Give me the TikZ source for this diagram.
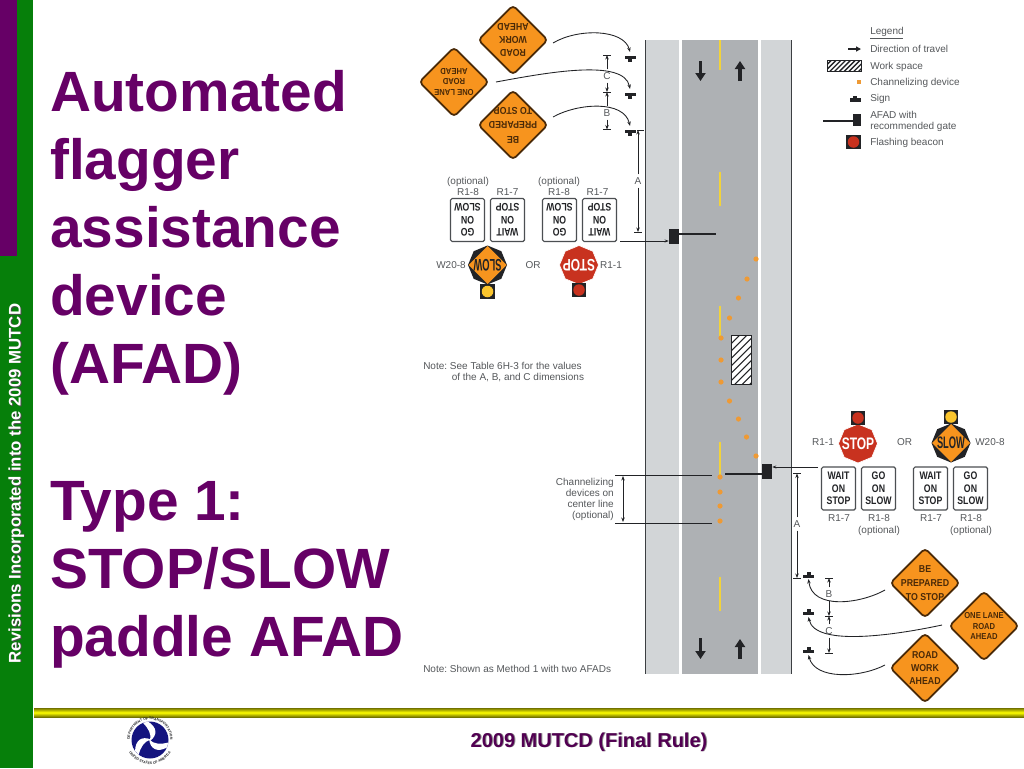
\documentclass[tikz,border=0pt]{standalone}
\usepackage{fontspec}
\setmainfont{Liberation Sans}
\newfontfamily\signf[FakeStretch=0.8]{Liberation Sans}
\newfontfamily\dsf[FakeStretch=0.88]{Liberation Sans}
\newfontfamily\padf[FakeStretch=0.72]{Liberation Sans}
\newfontfamily\slowf[FakeStretch=0.56]{Liberation Sans}
\usetikzlibrary{arrows.meta,shapes.geometric,decorations.text}
\frenchspacing
\definecolor{purp}{HTML}{660066}
\definecolor{grn}{HTML}{067F0A}
\definecolor{lgray}{HTML}{D2D5D7}
\definecolor{rgray}{HTML}{AEB1B4}
\definecolor{edge}{HTML}{3C3F42}
\definecolor{labc}{HTML}{55585B}
\definecolor{ink}{HTML}{222326}
\definecolor{org}{HTML}{F7941E}
\definecolor{brn}{HTML}{4A2A08}
\definecolor{yel}{HTML}{F2D33A}
\definecolor{cone}{HTML}{EE9A35}
\definecolor{stopr}{HTML}{C8321F}
\definecolor{bea}{HTML}{FBC52D}
\definecolor{nav}{HTML}{14147F}
\newdimen\pxu \pxu=0.75pt
\tikzset{
 titlet/.style={font=\fontsize{42.6}{42}\selectfont\bfseries,text=purp,anchor=base west,inner sep=0},
 lab/.style={font=\fontsize{7.5}{8.6}\selectfont,text=labc,inner sep=0,text height=5.3pt,text depth=0pt},
 labl/.style={lab,anchor=west},
 labr/.style={lab,anchor=east},
 dimlab/.style={lab,inner ysep=2.2pt},
 dsq/.style={rectangle,rotate=45,minimum size=49\pxu,inner sep=0,draw=brn,fill=org,line width=1.3pt,rounded corners=3pt},
 dtext/.style={inner sep=0,align=center,text=brn},
 tsq/.style={rectangle,minimum width=34\pxu,minimum height=43\pxu,inner sep=0,draw=labc!90!black,fill=white,line width=0.9pt,rounded corners=1.2pt},
 ttext/.style={inner sep=0,align=center,text=ink,font=\fontsize{8.2}{9.4}\selectfont\signf\bfseries},
 octa/.style={regular polygon,regular polygon sides=8,shape border rotate=22.5,minimum size=39\pxu,inner sep=0},
 fine/.style={draw=ink,line width=0.55pt,-{Stealth[length=3pt,width=2.25pt]}},
 dimln/.style={draw=ink,line width=0.75pt,-{Stealth[length=3.4pt,width=2.6pt]}},
 tick/.style={draw=ink,line width=0.75pt},
 roadarrow/.style={draw=ink,line width=2.6pt,-{Triangle[length=6pt,width=7.5pt]}},
 gate/.style={draw=ink,line width=1.8pt},
 leader/.style={draw=ink,line width=0.7pt},
 curve/.style={draw=ink,line width=0.65pt,-{Stealth[length=3.4pt,width=2.6pt]}},
}
\newcommand{\dsign}[7]{%
 \node[dsq] (#1) at (#2,#3) {};
 \node[dtext,rotate=#4,font=\fontsize{#5}{#6}\selectfont\dsf\bfseries] (#1-t) at (#2,#3) {#7};}
\newcommand{\tsign}[5]{%
 \node[tsq] (#1) at (#2,#3) {};
 \node[ttext,rotate=#4] (#1-t) at (#2,#3) {#5};}
\newcommand{\sstop}[4]{%
 \node[octa,fill=stopr,draw=white,line width=0.5pt] (#1) at (#2,#3) {};
 \node[inner sep=0,text=white,rotate=#4,font=\fontsize{12.5}{13}\selectfont\padf\bfseries] (#1-t) at (#2,#3) {STOP};}
\newcommand{\sslow}[4]{%
 \node[octa,fill=ink] (#1) at (#2,#3) {};
 \fill[org] (#2-19,#3) -- (#2,#3-19) -- (#2+19,#3) -- (#2,#3+19) -- cycle;
 \node[inner sep=0,text=ink,rotate=#4,font=\fontsize{12.5}{13}\selectfont\slowf\bfseries] (#1-t) at (#2,#3) {SLOW};}
\newcommand{\beacon}[4]{%
 \node[rectangle,fill=ink,minimum size=14.5\pxu,inner sep=0] (#1) at (#2,#3) {};
 \node[circle,fill=#4,minimum size=11.5\pxu,inner sep=0] (#1-l) at (#2,#3) {};}
\newcommand{\postdown}[2]{%
 \fill[ink] (#1-5.5,#2) rectangle (#1+5.5,#2+3.2);
 \fill[ink] (#1-2,#2+3) rectangle (#1+2,#2+6);}
\newcommand{\postup}[2]{%
 \fill[ink] (#1-2,#2) rectangle (#1+2,#2+3);
 \fill[ink] (#1-5.5,#2+2.8) rectangle (#1+5.5,#2+6);}
\begin{document}
\begin{tikzpicture}[x=0.75pt,y=-0.75pt]
\useasboundingbox (0,0) rectangle (1024,768);
\fill[white] (0,0) rectangle (1024,768);
% slide frame
\fill[grn] (0,0) rectangle (33,768);
\fill[purp] (0,0) rectangle (17,256);
\shade[top color=black!50!yellow!90!black,bottom color=black!50!yellow!90!black,middle color=yellow] (34,708) rectangle (1024,717);
\node[inner sep=0,anchor=base,rotate=90,font=\fontsize{12.6}{13}\selectfont\bfseries,text=black!70] (side-s) at (21.6,484) {Revisions Incorporated into the 2009 MUTCD};
\node[inner sep=0,anchor=base,rotate=90,font=\fontsize{12.6}{13}\selectfont\bfseries,text=white] (side) at (20.6,483.5) {Revisions Incorporated into the 2009 MUTCD};
% title
\node[titlet] (t1) at (50,111) {Automated};
\node[titlet] (t2) at (50,179) {flagger};
\node[titlet] (t3) at (50,247) {assistance};
\node[titlet] (t4) at (50,315) {device};
\node[titlet] (t5) at (50,383) {(AFAD)};
\node[titlet] (t6) at (50,520) {Type 1:};
\node[titlet] (t7) at (50,588) {STOP/SLOW};
\node[titlet] (t8) at (50,656) {paddle AFAD};
% footer
\node[inner sep=0,anchor=base,font=\fontsize{15}{15}\selectfont\bfseries,text=black!45] (foot-s) at (590,747.8) {2009 MUTCD (Final Rule)};
\node[inner sep=0,anchor=base,font=\fontsize{15}{15}\selectfont\bfseries,text=purp!80!black] (foot) at (589,747) {2009 MUTCD (Final Rule)};
% logo
\begin{scope}[shift={(150,740)},y=0.75pt]
 \fill[nav] (0,0) circle[radius=18.5];
 \foreach \a in {0,120,240}{
  \fill[white,rotate=\a] (-2,18.4) .. controls (7,13) and (8,5) .. (0,-1) .. controls (2,6) and (-2,12) .. (-7,17.2) -- cycle;}
 \path[decorate,decoration={text along path,text align=center,text={|\fontsize{2.6}{3}\selectfont\bfseries\color{ink}|DEPARTMENT OF TRANSPORTATION}}] (200:20.3) arc (200:-20:20.3);
 \path[decorate,decoration={text along path,text align=center,text={|\fontsize{2.6}{3}\selectfont\bfseries\color{ink}|UNITED STATES OF AMERICA}}] (206:24.2) arc (206:334:24.2);
\end{scope}
% road
\fill[lgray] (646,40) rectangle (679,674);
\fill[rgray] (682,40) rectangle (758,674);
\fill[lgray] (761,40) rectangle (791,674);
\draw[edge,line width=1.1pt] (645.5,40) -- (645.5,674);
\draw[edge,line width=1.1pt] (791.5,40) -- (791.5,674);
\foreach \ya/\yb in {40/70,172/206,306/337,442/477,577/611}{
 \draw[yel,line width=2pt] (720,\ya) -- (720,\yb);}
\foreach \cx/\cy in {756/259,747/279,738.5/298,729.5/318,721/338,721/360,721/382,729.5/401,738.5/419,746.5/437,756/456,720/477,720/492,720/506,720/521}{
 \fill[cone] (\cx,\cy) circle[radius=2.6];}
% road arrows
\coordinate (d1a) at (700.5,61); \coordinate (d1b) at (700.5,81);
\coordinate (u1a) at (740,81); \coordinate (u1b) at (740,61);
\coordinate (d2a) at (700.5,638); \coordinate (d2b) at (700.5,659);
\coordinate (u2a) at (740,659); \coordinate (u2b) at (740,639);
\draw[roadarrow] (d1a) -- (d1b);
\draw[roadarrow] (u1a) -- (u1b);
\draw[roadarrow] (d2a) -- (d2b);
\draw[roadarrow] (u2a) -- (u2b);
% work space
\begin{scope}
 \clip (731,335) rectangle (751,384);
 \fill[white] (731,335) rectangle (751,384);
 \foreach \k in {0,7.4,...,80}{ \draw[ink,line width=0.8pt] (725,335+\k) -- ++(35,-35);}
\end{scope}
\draw[ink,line width=0.7pt] (731,335) rectangle (751,384);
% AFADs
\node[rectangle,fill=ink,minimum width=10\pxu,minimum height=15\pxu,inner sep=0] (afad1) at (674,236.5) {};
\coordinate (g1) at (716,234);
\draw[gate] (afad1.east |- g1) -- (g1);
\node[rectangle,fill=ink,minimum width=10\pxu,minimum height=15\pxu,inner sep=0] (afad2) at (767,471.5) {};
\coordinate (g2) at (725,474);
\draw[gate] (afad2.west |- g2) -- (g2);
\coordinate (ln1) at (620,241);
\draw[fine] (ln1) -- (afad1.west |- ln1);
\coordinate (ln2) at (818,467);
\draw[fine] (ln2) -- (afad2.east |- ln2);
% top diamonds
\dsign{rw1}{513}{40}{180}{7.5}{9.8}{ROAD\\WORK\\AHEAD}
\dsign{ol1}{454}{82}{180}{6.5}{8}{ONE LANE\\ROAD\\AHEAD}
\dsign{bp1}{513}{125}{180}{7.5}{10.8}{BE\\PREPARED\\TO STOP}
% bottom diamonds
\dsign{bp2}{925}{583}{0}{7.5}{10.8}{BE\\PREPARED\\TO STOP}
\dsign{ol2}{984}{626}{0}{6.5}{8}{ONE LANE\\ROAD\\AHEAD}
\dsign{rw2}{925}{668}{0}{7.5}{9.8}{ROAD\\WORK\\AHEAD}
% top posts and curves
\postdown{630}{56} \postdown{630}{93} \postdown{630}{130}
\coordinate (s1) at (630,52); \coordinate (s2) at (630,89); \coordinate (s3) at (630,126);
\coordinate (c1) at (553,43); \coordinate (c2) at (496,82); \coordinate (c3) at (553,117);
\draw[curve] (c1) .. controls (578,28) and (624,29) .. (s1);
\draw[curve] (c2) .. controls (545,73) and (624,58) .. (s2);
\draw[curve] (c3) .. controls (578,103) and (624,100) .. (s3);
% bottom posts and curves
\postup{808.5}{572} \postup{808.5}{609} \postup{808.5}{647}
\coordinate (p1) at (808.5,579); \coordinate (p2) at (808.5,617); \coordinate (p3) at (808.5,655);
\coordinate (e1) at (885,590); \coordinate (e2) at (942,625); \coordinate (e3) at (885,665);
\draw[curve] (e1) .. controls (860,604) and (812,610) .. (p1);
\draw[curve] (e2) .. controls (900,634) and (815,648) .. (p2);
\draw[curve] (e3) .. controls (860,678) and (815,680) .. (p3);
% dimensions top
\node[dimlab] (C1) at (607,76) {C};
\node[dimlab] (B1) at (607,113) {B};
\node[dimlab] (A1) at (638,181) {A};
\coordinate (tk1) at (607,55); \coordinate (tk2) at (607,92); \coordinate (tk3) at (607,129.5);
\coordinate (tk4) at (640.5,130); \coordinate (tk5) at (638,232);
\draw[tick] (tk1) ++(-4,0) -- ++(8,0);
\draw[tick] (tk2) ++(-4,0) -- ++(8,0);
\draw[tick] (tk3) ++(-4,0) -- ++(8,0);
\draw[tick] (tk4) ++(-3.5,0) -- ++(7,0);
\draw[tick] (tk5) ++(-4,0) -- ++(8,0);
\draw[dimln] (C1.north) -- (tk1);
\draw[dimln] (C1.south) -- (tk2);
\draw[dimln] (B1.north) -- (tk2);
\draw[dimln] (B1.south) -- (tk3);
\draw[dimln] (A1.north) -- (A1.north |- tk4);
\draw[dimln] (A1.south) -- (tk5);
% dimensions bottom
\node[dimlab] (B2) at (829,594) {B};
\node[dimlab] (C2) at (829,631) {C};
\node[dimlab] (A2) at (797,524) {A};
\coordinate (bk1) at (829,578); \coordinate (bk2) at (829,616); \coordinate (bk3) at (829,653);
\coordinate (bk4) at (797,473.5); \coordinate (bk5) at (797,578);
\draw[tick] (bk1) ++(-4,0) -- ++(8,0);
\draw[tick] (bk2) ++(-4,0) -- ++(8,0);
\draw[tick] (bk3) ++(-4,0) -- ++(8,0);
\draw[tick] (bk4) ++(-4,0) -- ++(8,0);
\draw[tick] (bk5) ++(-4,0) -- ++(8,0);
\draw[dimln] (B2.north) -- (bk1);
\draw[dimln] (B2.south) -- (bk2);
\draw[dimln] (C2.north) -- (bk2);
\draw[dimln] (C2.south) -- (bk3);
\draw[dimln] (A2.north) -- (bk4);
\draw[dimln] (A2.south) -- (bk5);
% channelizing dimension
\coordinate (cl1) at (615,475); \coordinate (cl1e) at (712,475);
\coordinate (cl2) at (615,523); \coordinate (cl2e) at (712,523);
\draw[leader] (cl1) -- (cl1e);
\draw[leader] (cl2) -- (cl2e);
\coordinate (cd1) at (623,476); \coordinate (cd2) at (623,522);
\draw[ink,line width=0.75pt,{Stealth[length=3.4pt,width=2.6pt]}-{Stealth[length=3.4pt,width=2.6pt]}] (cd1) -- (cd2);
\node[labr] (ch1) at (614,482) {Channelizing};
\node[labr] (ch2) at (614,493) {devices on};
\node[labr] (ch3) at (614,503.5) {center line};
\node[labr] (ch4) at (614,514.5) {(optional)};
% top rotated signs
\tsign{ts1}{467.5}{220}{180}{GO\\ON\\SLOW}
\tsign{ts2}{507.5}{220}{180}{WAIT\\ON\\STOP}
\tsign{ts3}{559.5}{220}{180}{GO\\ON\\SLOW}
\tsign{ts4}{599.5}{220}{180}{WAIT\\ON\\STOP}
\node[lab] (o1) at (468,181) {(optional)};
\node[lab] (o2) at (559,181) {(optional)};
\node[lab] (l1) at (468,192) {R1-8};
\node[lab] (l2) at (507.5,192) {R1-7};
\node[lab] (l3) at (559,192) {R1-8};
\node[lab] (l4) at (597.5,192) {R1-7};
\node[lab] (w1) at (451,265) {W20-8};
\node[lab] (or1) at (533,265) {OR};
\node[lab] (r1) at (611,265) {R1-1};
\sslow{pad1}{487.5}{265}{180}
\beacon{bc1}{487.5}{291.5}{bea}
\sstop{pad2}{579}{265}{180}
\beacon{bc2}{579}{290}{stopr}
% bottom signs
\tsign{bs1}{838.5}{488.5}{0}{WAIT\\ON\\STOP}
\tsign{bs2}{878.5}{488.5}{0}{GO\\ON\\SLOW}
\tsign{bs3}{930.5}{488.5}{0}{WAIT\\ON\\STOP}
\tsign{bs4}{970.5}{488.5}{0}{GO\\ON\\SLOW}
\node[lab] (m1) at (839,518) {R1-7};
\node[lab] (m2) at (879,518) {R1-8};
\node[lab] (m3) at (931,518) {R1-7};
\node[lab] (m4) at (971,518) {R1-8};
\node[lab] (o3) at (879,530) {(optional)};
\node[lab] (o4) at (971,530) {(optional)};
\node[lab] (r2) at (823,442) {R1-1};
\node[lab] (or2) at (904.5,442) {OR};
\node[lab] (w2) at (990,442) {W20-8};
\sstop{pad3}{858}{443.5}{0}
\beacon{bc3}{858}{418}{stopr}
\sslow{pad4}{951}{443}{0}
\beacon{bc4}{951}{417}{bea}
% notes
\node[labl] (n1) at (423,366) {Note: See Table 6H-3 for the values};
\node[labl] (n2) at (451.5,377) {of the A, B, and C dimensions};
\node[labl] (n3) at (423,669) {Note: Shown as Method 1 with two AFADs};
% legend
\node[labl] (lg0) at (870,31) {Legend};
\draw[labc,line width=0.5pt] (870,38) -- (903,38);
\node[labl] (lg1) at (870,49) {Direction of travel};
\node[labl] (lg2) at (870,66) {Work space};
\node[labl] (lg3) at (870,82) {Channelizing device};
\node[labl] (lg4) at (870,98) {Sign};
\node[labl] (lg5) at (870,115) {AFAD with};
\node[labl] (lg6) at (870,126) {recommended gate};
\node[labl] (lg7) at (870,142) {Flashing beacon};
\coordinate (la1) at (848,49); \coordinate (la2) at (861,49);
\draw[ink,line width=1.2pt,-{Triangle[length=3.75pt,width=3.75pt]}] (la1) -- (la2);
\begin{scope}
 \clip (827,60) rectangle (861,71);
 \fill[white] (827,60) rectangle (861,71);
 \foreach \k in {0,4.8,...,58}{ \draw[ink,line width=1pt] (822,60+\k) -- ++(50,-50);}
\end{scope}
\draw[ink,line width=0.7pt] (827,60) rectangle (861,71);
\fill[cone] (857,80) rectangle (861,84);
\postup{855}{95.5}
\node[rectangle,fill=ink,minimum width=8\pxu,minimum height=12\pxu,inner sep=0] (lgaf) at (857,120) {};
\coordinate (lgg) at (823,121);
\draw[ink,line width=1.3pt] (lgg) -- (lgaf.west |- lgg);
\beacon{lgb}{853.5}{142}{stopr}
\end{tikzpicture}
\end{document}
